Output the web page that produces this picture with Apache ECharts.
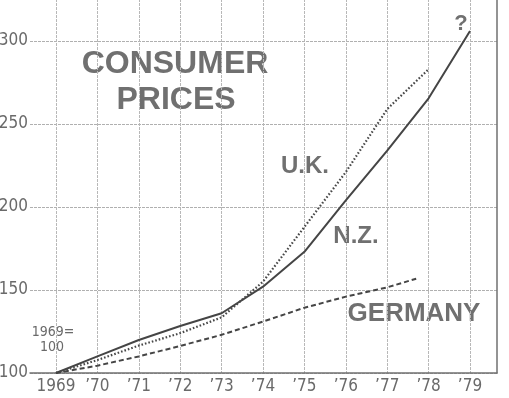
<!DOCTYPE html>
<html>
<head>
<meta charset="utf-8">
<script src="https://cdn.jsdelivr.net/npm/echarts@6/dist/echarts.min.js"></script>
<style>html,body{margin:0;padding:0;background:#fff}#c{width:509px;height:398px}</style>
</head>
<body>
<div id="c"></div>
<script>
const years = [1969, 1970, 1971, 1972, 1973, 1974, 1975, 1976, 1977, 1978, 1979];
const yTicks = [100, 150, 200, 250, 300];
const nzValues = [100, 110, 119.9, 128.3, 136, 152, 173, 204, 234, 265.5, 306];
const ukYears = [1969, 1970, 1971, 1972, 1973, 1974, 1975, 1976, 1977, 1978];
const ukValues = [100, 107.8, 116.5, 124, 133.5, 155, 188, 221, 259, 283];
const deYears = [1969, 1970, 1971, 1972, 1973, 1974, 1975, 1976, 1977, 1977.7];
const deValues = [100, 104.4, 110, 116.3, 123, 131, 139.3, 146, 151.6, 156.8];

const pair = (xs, vs) => xs.map((x, i) => [x, vs[i]]);
const numFont = '"DejaVu Sans Condensed", "Liberation Sans Narrow", sans-serif';
const txtFont = '"Liberation Sans", Arial, sans-serif';
const lineColor = '#454545';

const chart = echarts.init(document.getElementById('c'), null, {renderer: 'canvas'});
chart.setOption({
  animation: false,
  backgroundColor: '#ffffff',
  grid: {left: 30, right: 12, top: -1, bottom: 25, containLabel: false, outerBoundsMode: 'none'},
  xAxis: {
    type: 'value', min: 1968.372, max: 1979.652,
    axisLine: {show: true, lineStyle: {color: '#707070', width: 1.5}},
    axisTick: {show: false, customValues: years},
    axisLabel: {
      customValues: years, margin: 5,
      fontFamily: numFont, fontSize: 17, color: '#6a6a6a',
      formatter: v => v === 1969 ? '1969' : '\u2019' + String(v - 1900)
    },
    splitLine: {show: true, lineStyle: {color: '#b8b8b8', width: 1, type: [3, 1]}}
  },
  yAxis: [{
    type: 'value', min: 100, max: 325.3, interval: 50,
    axisLine: {show: false}, axisTick: {show: false},
    axisLabel: {
      margin: 2, fontFamily: numFont, fontSize: 17, color: '#6a6a6a',
      formatter: v => yTicks.includes(v) ? String(v) : ''
    },
    splitLine: {show: true, lineStyle: {color: '#b0b0b0', width: 1, type: [3, 1]}}
  }, {
    type: 'value', position: 'right', min: 100, max: 325.3,
    axisLine: {show: true, lineStyle: {color: '#707070', width: 1.5}},
    axisTick: {show: false}, axisLabel: {show: false}, splitLine: {show: false}
  }],
  series: [
    {name: 'N.Z.', type: 'line', data: pair(years, nzValues), symbol: 'none',
     lineStyle: {color: lineColor, width: 2, type: 'solid'}},
    {name: 'U.K.', type: 'line', data: pair(ukYears, ukValues), symbol: 'none',
     lineStyle: {color: '#484848', width: 2.2, type: [1.6, 2]}},
    {name: 'GERMANY', type: 'line', data: pair(deYears, deValues), symbol: 'none',
     lineStyle: {color: lineColor, width: 2, type: [5, 3]}}
  ],
  graphic: [
    {type: 'text', x: 175, y: 64, style: {text: 'CONSUMER', font: 'bold 32px ' + txtFont, fill: '#707070', align: 'center', verticalAlign: 'middle'}},
    {type: 'text', x: 176, y: 100, style: {text: 'PRICES', font: 'bold 32px ' + txtFont, fill: '#707070', align: 'center', verticalAlign: 'middle'}},
    {type: 'text', x: 305, y: 166, style: {text: 'U.K.', font: 'bold 24px ' + txtFont, fill: '#707070', align: 'center', verticalAlign: 'middle'}},
    {type: 'text', x: 356, y: 236, style: {text: 'N.Z.', font: 'bold 24px ' + txtFont, fill: '#707070', align: 'center', verticalAlign: 'middle'}},
    {type: 'text', x: 414, y: 314, style: {text: 'GERMANY', font: 'bold 26px ' + txtFont, fill: '#707070', align: 'center', verticalAlign: 'middle'}},
    {type: 'text', x: 461, y: 24, style: {text: '?', font: 'bold 22px ' + txtFont, fill: '#707070', align: 'center', verticalAlign: 'middle'}},
    {type: 'text', x: 53, y: 332, style: {text: '1969=', font: '14px ' + numFont, fill: '#6a6a6a', align: 'center', verticalAlign: 'middle'}},
    {type: 'text', x: 52, y: 347, style: {text: '100', font: '14px ' + numFont, fill: '#6a6a6a', align: 'center', verticalAlign: 'middle'}}
  ]
});
</script>
</body>
</html>
